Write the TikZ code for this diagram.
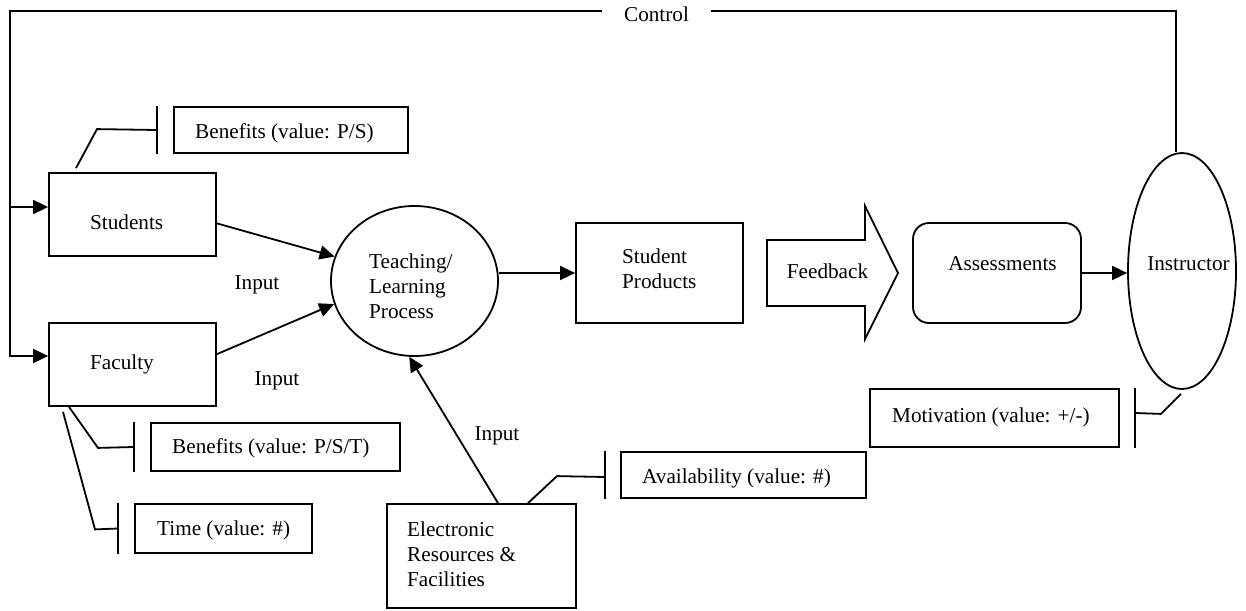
\documentclass[tikz,border=0pt]{standalone}
\usepackage{fontspec}
\setmainfont{Liberation Serif}
\usetikzlibrary{arrows.meta,shapes.geometric}
\begin{document}
\begin{tikzpicture}[x=1pt,y=-1pt,
  every node/.style={font=\fontsize{21.2}{24.8}\selectfont},
  box/.style={draw, line width=1.8pt, inner sep=0pt},
  oval/.style={draw, ellipse, line width=1.8pt, inner sep=0pt},
  txt/.style={inner sep=0pt, text height=14.5pt, text depth=0pt},
  mtxt/.style={inner sep=0pt, align=left},
  line/.style={line width=1.8pt},
  arr/.style={line width=1.8pt, -{Triangle[length=15pt,width=14pt]}},
]
\useasboundingbox (0,0) rectangle (1246,610);

% main boxes
\node[box, minimum width=167pt, minimum height=83pt] (students) at (132.5,214.5) {};
\node[txt, anchor=west] (studentsT) at (90,222) {Students};
\node[box, minimum width=167pt, minimum height=83pt] (faculty) at (132.5,364.5) {};
\node[txt, anchor=west] (facultyT) at (90,362) {Faculty};

\node[oval, minimum width=167pt, minimum height=150pt] (tlp) at (414.5,281) {};
\node[mtxt, anchor=west] (tlpT) at (369,286) {Teaching/\\Learning\\Process};

\node[box, minimum width=167pt, minimum height=100pt] (prod) at (659.5,273) {};
\node[mtxt, anchor=west] (prodT) at (622,269) {Student\\Products};

% block arrow for feedback
\draw[line] (767,240) -- (865,240) -- (865,206) -- (898,273) -- (865,339) -- (865,306) -- (767,306) -- cycle;
\node[txt] (fb) at (827.5,271) {Feedback};

\node[box, rounded corners=16pt, minimum width=168pt, minimum height=100pt] (assess) at (997,273) {};
\node[txt] (assessT) at (1002.5,263) {Assessments};

\node[oval, minimum width=108pt, minimum height=236pt] (instr) at (1182,271) {};
\node[txt] (instrT) at (1188.5,263) {Instructor};

\node[box, minimum width=189pt, minimum height=104pt] (elec) at (481.5,556) {};
\node[mtxt, anchor=west] (elecT) at (407,554) {Electronic\\Resources \&\\Facilities};

% attribute boxes
\node[box, minimum width=234pt, minimum height=46pt] (ben1) at (291,130) {};
\node[txt, anchor=west] (ben1T) at (195,131) {Benefits (value: P/S)};
\node[box, minimum width=249pt, minimum height=48pt] (ben2) at (275.5,447) {};
\node[txt, anchor=west] (ben2T) at (172,446) {Benefits (value: P/S/T)};
\node[box, minimum width=177pt, minimum height=49pt] (time) at (223.5,528.5) {};
\node[txt, anchor=west] (timeT) at (157,528) {Time (value: \#)};
\node[box, minimum width=245pt, minimum height=46pt] (avail) at (743.5,475) {};
\node[txt, anchor=west] (availT) at (642,476) {Availability (value: \#)};
\node[box, minimum width=249pt, minimum height=58pt] (motiv) at (994.5,418) {};
\node[txt, anchor=west] (motivT) at (892,415) {Motivation (value: +/-)};

% labels
\node[txt] (in1) at (257,282) {Input};
\node[txt] (in2) at (277,378) {Input};
\node[txt] (in3) at (497,433) {Input};
\node[txt, inner xsep=22pt] (ctrl) at (656.5,14) {Control};

% control loop
\coordinate (lc) at (10,11);
\coordinate (stuin) at ([yshift=7.5pt]students.west);
\coordinate (facin) at ([yshift=8.5pt]faculty.west);
\draw[arr] (ctrl.west |- lc) -- (lc) |- (facin);
\draw[arr] (lc |- stuin) -- (stuin);
\draw[line] (ctrl.east |- lc) -| ([xshift=-6pt]instr.north);

% flow arrows
\draw[arr] (students.-6) -- (tlp.163);
\draw[arr] (faculty.7) -- (tlp.196);
\draw[arr] ([xshift=16.5pt]elec.north) -- (tlp.266);
\draw[arr] (tlp.east |- prod.west) -- (prod.west);
\draw[arr] (assess.east) -- (assess.east -| instr.west);

% attribute links with stop bars
\draw[line] ([xshift=-56.5pt,yshift=4pt]students.north) -- ++(21,-39) -- ([xshift=-16pt]ben1.west);
\draw[line] ([xshift=-16pt]ben1.north west) -- ([xshift=-16pt]ben1.south west);

\draw[line] ([xshift=-63.5pt]faculty.south) -- ++(29,41) -- ([xshift=-16pt]ben2.west);
\draw[line] ([xshift=-16pt]ben2.north west) -- ([xshift=-16pt]ben2.south west);

\draw[line] ([xshift=-69.5pt,yshift=-5pt]faculty.south) -- ++(32,117.5) -- ([xshift=-16pt]time.west);
\draw[line] ([xshift=-16pt]time.north west) -- ([xshift=-16pt]time.south west);

\draw[line] ([xshift=46.5pt]elec.north) -- ++(29,-27) -- ([xshift=-15pt,yshift=-2pt]avail.west);
\draw[line] ([xshift=-15pt]avail.north west) -- ([xshift=-15pt]avail.south west);

\draw[line] ([xshift=-1pt,yshift=-4pt]instr.south) -- ++(-20,20) -- ([xshift=15pt,yshift=5pt]motiv.east);
\draw[line] ([xshift=15pt]motiv.north east) -- ([xshift=15pt]motiv.south east);
\end{tikzpicture}
\end{document}
